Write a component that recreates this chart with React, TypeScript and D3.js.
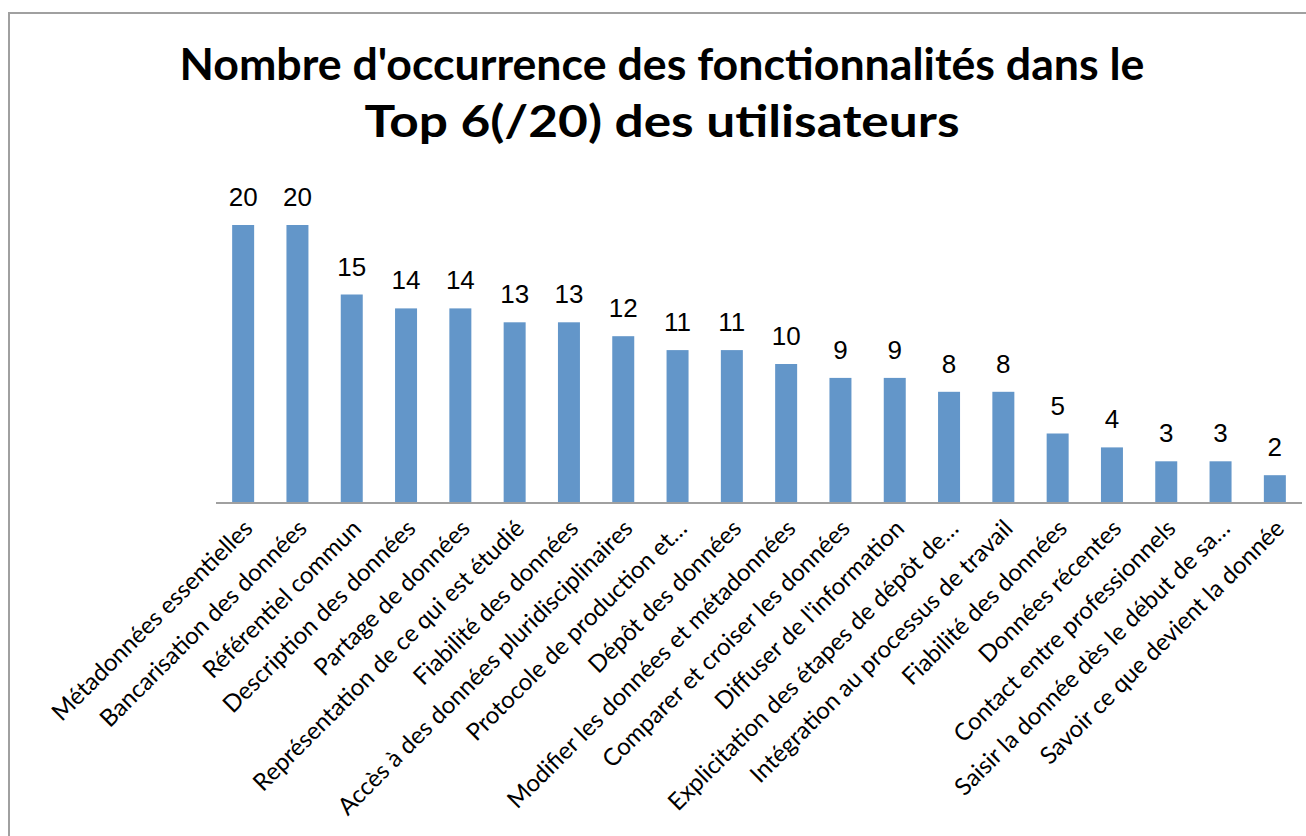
import React from "react";
import * as d3 from "d3";

const categories = [
  "Métadonnées essentielles",
  "Bancarisation des données",
  "Référentiel commun",
  "Description des données",
  "Partage de données",
  "Représentation de ce qui est étudié",
  "Fiabilité des données",
  "Accès à des données pluridisciplinaires",
  "Protocole de production et…",
  "Dépôt des données",
  "Modifier les données et métadonnées",
  "Comparer et croiser les données",
  "Diffuser de l'information",
  "Explicitation des étapes de dépôt de…",
  "Intégration au processus de travail",
  "Fiabilité des données",
  "Données récentes",
  "Contact entre professionnels",
  "Saisir la donnée dès le début de sa…",
  "Savoir ce que devient la donnée",
];
const values = [20, 20, 15, 14, 14, 13, 13, 12, 11, 11, 10, 9, 9, 8, 8, 5, 4, 3, 3, 2];
const titleLines = ["Nombre d'occurrence des fonctionnalités dans le", "Top 6(/20) des utilisateurs"];

const W = 1306;
const H = 836;
const BAR = "#6396c9";

export default function App() {
  const x = d3
    .scaleBand<number>()
    .domain(d3.range(categories.length))
    .range([216, 1302])
    .paddingInner(0.595)
    .paddingOuter(0.2975);
  const y = d3.scaleLinear().domain([0, 20]).range([503, 225]);

  return (
    <svg
      width={W}
      height={H}
      style={{ position: "absolute", left: 0, top: 0, background: "#fff" }}
    >
      <rect x={9} y={13} width={W + 20} height={H + 20} fill="#fff" stroke="#a0a0a0" strokeWidth={2} />
      <text
        x={662}
        y={80}
        textAnchor="middle"
        fontFamily="Lato, 'Open Sans', sans-serif"
        fontWeight="bold"
        fontSize={44}
        textLength={965}
        lengthAdjust="spacingAndGlyphs"
      >
        {titleLines[0]}
      </text>
      <text
        x={662}
        y={137}
        textAnchor="middle"
        fontFamily="Lato, 'Open Sans', sans-serif"
        fontWeight="bold"
        fontSize={44}
        textLength={595}
        lengthAdjust="spacingAndGlyphs"
      >
        {titleLines[1]}
      </text>
      {values.map((v, i) => (
        <rect key={"b" + i} x={x(i)} y={y(v)} width={x.bandwidth()} height={y(0) - y(v)} fill={BAR} />
      ))}
      {values.map((v, i) => (
        <text
          key={"v" + i}
          x={(x(i) as number) + x.bandwidth() / 2}
          y={y(v) - 19}
          textAnchor="middle"
          fontFamily="'Liberation Sans', Arial, sans-serif"
          fontSize={26}
          fill="#000"
        >
          {v}
        </text>
      ))}
      <line x1={216} x2={1302} y1={503} y2={503} stroke="#a0a0a0" strokeWidth={2} />
      {categories.map((c, i) => {
        const cx = (x(i) as number) + x.bandwidth() / 2 + 5;
        const cy = 524;
        return (
          <text
            key={"c" + i}
            transform={`translate(${cx},${cy}) rotate(-45)`}
            textAnchor="end"
            dy="0.35em"
            fontFamily="Lato, 'Open Sans', sans-serif"
            fontSize={24}
            fill="#000"
          >
            {c}
          </text>
        );
      })}
    </svg>
  );
}
